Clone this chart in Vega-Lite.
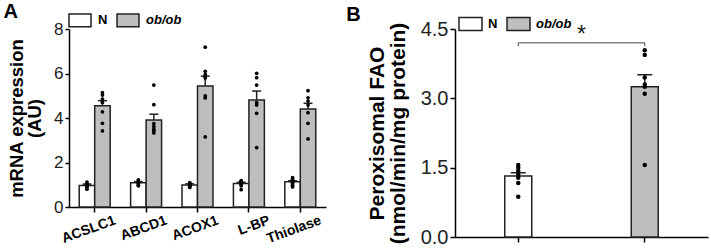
{
  "$schema": "https://vega.github.io/schema/vega-lite/v6.json",
  "padding": {"left": 3, "top": 2, "right": 4, "bottom": 0},
  "config": {
    "view": {"stroke": null},
    "font": "Liberation Sans",
    "axis": {"domainColor": "black", "domainWidth": 1.5, "tickColor": "black", "tickWidth": 1.5, "labelColor": "#222", "titleColor": "black", "grid": false, "labelFont": "Liberation Sans", "titleFont": "Liberation Sans", "titleFontWeight": "bold"},
    "legend": {"labelFont": "Liberation Sans"},
    "title": {"font": "Liberation Sans"}
  },
  "datasets": {
    "barsA": [
      {"gene": "ACSLC1", "group": "N", "mean": 0.97, "hi": 1.03},
      {"gene": "ACSLC1", "group": "ob/ob", "mean": 4.55, "hi": 4.78},
      {"gene": "ABCD1", "group": "N", "mean": 1.09, "hi": 1.14},
      {"gene": "ABCD1", "group": "ob/ob", "mean": 3.91, "hi": 4.17},
      {"gene": "ACOX1", "group": "N", "mean": 0.99, "hi": 1.04},
      {"gene": "ACOX1", "group": "ob/ob", "mean": 5.44, "hi": 5.88},
      {"gene": "L-BP", "group": "N", "mean": 1.06, "hi": 1.11},
      {"gene": "L-BP", "group": "ob/ob", "mean": 4.81, "hi": 5.21},
      {"gene": "Thiolase", "group": "N", "mean": 1.13, "hi": 1.18},
      {"gene": "Thiolase", "group": "ob/ob", "mean": 4.41, "hi": 4.66}
    ],
    "ptsA": [
      {"gene": "ACSLC1", "group": "N", "value": 1.12},
      {"gene": "ACSLC1", "group": "N", "value": 1.05},
      {"gene": "ACSLC1", "group": "N", "value": 1.0},
      {"gene": "ACSLC1", "group": "N", "value": 0.97},
      {"gene": "ACSLC1", "group": "N", "value": 0.93},
      {"gene": "ACSLC1", "group": "N", "value": 0.88},
      {"gene": "ACSLC1", "group": "N", "value": 0.8},
      {"gene": "ACSLC1", "group": "ob/ob", "value": 5.14},
      {"gene": "ACSLC1", "group": "ob/ob", "value": 5.03},
      {"gene": "ACSLC1", "group": "ob/ob", "value": 4.85},
      {"gene": "ACSLC1", "group": "ob/ob", "value": 4.7},
      {"gene": "ACSLC1", "group": "ob/ob", "value": 4.28},
      {"gene": "ACSLC1", "group": "ob/ob", "value": 3.76},
      {"gene": "ACSLC1", "group": "ob/ob", "value": 3.42},
      {"gene": "ABCD1", "group": "N", "value": 1.22},
      {"gene": "ABCD1", "group": "N", "value": 1.17},
      {"gene": "ABCD1", "group": "N", "value": 1.12},
      {"gene": "ABCD1", "group": "N", "value": 1.08},
      {"gene": "ABCD1", "group": "N", "value": 1.04},
      {"gene": "ABCD1", "group": "N", "value": 0.98},
      {"gene": "ABCD1", "group": "N", "value": 0.95},
      {"gene": "ABCD1", "group": "ob/ob", "value": 5.48},
      {"gene": "ABCD1", "group": "ob/ob", "value": 4.6},
      {"gene": "ABCD1", "group": "ob/ob", "value": 3.75},
      {"gene": "ABCD1", "group": "ob/ob", "value": 3.62},
      {"gene": "ABCD1", "group": "ob/ob", "value": 3.5},
      {"gene": "ABCD1", "group": "ob/ob", "value": 3.42},
      {"gene": "ABCD1", "group": "ob/ob", "value": 3.33},
      {"gene": "ACOX1", "group": "N", "value": 1.1},
      {"gene": "ACOX1", "group": "N", "value": 1.05},
      {"gene": "ACOX1", "group": "N", "value": 1.0},
      {"gene": "ACOX1", "group": "N", "value": 0.98},
      {"gene": "ACOX1", "group": "N", "value": 0.95},
      {"gene": "ACOX1", "group": "N", "value": 0.92},
      {"gene": "ACOX1", "group": "N", "value": 0.88},
      {"gene": "ACOX1", "group": "ob/ob", "value": 7.18},
      {"gene": "ACOX1", "group": "ob/ob", "value": 6.1},
      {"gene": "ACOX1", "group": "ob/ob", "value": 5.95},
      {"gene": "ACOX1", "group": "ob/ob", "value": 5.85},
      {"gene": "ACOX1", "group": "ob/ob", "value": 5.8},
      {"gene": "ACOX1", "group": "ob/ob", "value": 5.0},
      {"gene": "ACOX1", "group": "ob/ob", "value": 4.9},
      {"gene": "ACOX1", "group": "ob/ob", "value": 3.15},
      {"gene": "L-BP", "group": "N", "value": 1.18},
      {"gene": "L-BP", "group": "N", "value": 1.14},
      {"gene": "L-BP", "group": "N", "value": 1.1},
      {"gene": "L-BP", "group": "N", "value": 1.06},
      {"gene": "L-BP", "group": "N", "value": 1.02},
      {"gene": "L-BP", "group": "N", "value": 0.95},
      {"gene": "L-BP", "group": "N", "value": 0.78},
      {"gene": "L-BP", "group": "ob/ob", "value": 6.01},
      {"gene": "L-BP", "group": "ob/ob", "value": 5.81},
      {"gene": "L-BP", "group": "ob/ob", "value": 5.48},
      {"gene": "L-BP", "group": "ob/ob", "value": 4.69},
      {"gene": "L-BP", "group": "ob/ob", "value": 4.58},
      {"gene": "L-BP", "group": "ob/ob", "value": 4.21},
      {"gene": "L-BP", "group": "ob/ob", "value": 2.67},
      {"gene": "Thiolase", "group": "N", "value": 1.32},
      {"gene": "Thiolase", "group": "N", "value": 1.25},
      {"gene": "Thiolase", "group": "N", "value": 1.17},
      {"gene": "Thiolase", "group": "N", "value": 1.1},
      {"gene": "Thiolase", "group": "N", "value": 1.05},
      {"gene": "Thiolase", "group": "N", "value": 0.98},
      {"gene": "Thiolase", "group": "N", "value": 0.9},
      {"gene": "Thiolase", "group": "ob/ob", "value": 5.23},
      {"gene": "Thiolase", "group": "ob/ob", "value": 4.91},
      {"gene": "Thiolase", "group": "ob/ob", "value": 4.76},
      {"gene": "Thiolase", "group": "ob/ob", "value": 4.58},
      {"gene": "Thiolase", "group": "ob/ob", "value": 4.24},
      {"gene": "Thiolase", "group": "ob/ob", "value": 3.76},
      {"gene": "Thiolase", "group": "ob/ob", "value": 3.06}
    ],
    "barsB": [
      {"group": "N", "mean": 1.32, "hi": 1.39},
      {"group": "ob/ob", "mean": 3.25, "hi": 3.51}
    ],
    "ptsB": [
      {"group": "N", "value": 1.56},
      {"group": "N", "value": 1.5},
      {"group": "N", "value": 1.43},
      {"group": "N", "value": 1.35},
      {"group": "N", "value": 1.28},
      {"group": "N", "value": 1.17},
      {"group": "N", "value": 0.87},
      {"group": "ob/ob", "value": 4.04},
      {"group": "ob/ob", "value": 3.94},
      {"group": "ob/ob", "value": 3.45},
      {"group": "ob/ob", "value": 3.3},
      {"group": "ob/ob", "value": 3.25},
      {"group": "ob/ob", "value": 3.1},
      {"group": "ob/ob", "value": 1.56}
    ],
    "sig": [
      {"from": "N", "to": "ob/ob", "y": 4.2, "ytext": 4.38, "label": "*"}
    ],
    "sigEnds": [
      {"group": "N", "y": 4.2, "y2": 4.13},
      {"group": "ob/ob", "y": 4.2, "y2": 4.13}
    ]
  },
  "spacing": 20,
  "resolve": {
    "scale": {"x": "independent", "y": "independent", "fill": "independent", "xOffset": "independent"},
    "legend": {"fill": "independent"},
    "axis": {"x": "independent", "y": "independent"}
  },
  "hconcat": [
    {
      "width": 257,
      "height": 178,
      "title": {"text": "A", "anchor": "start", "frame": "bounds", "fontSize": 20, "fontWeight": "bold", "offset": -14, "dx": -4, "color": "black"},
      "layer": [
        {
          "data": {"name": "barsA"},
          "mark": {"type": "bar", "stroke": "#222", "strokeWidth": 1.5},
          "encoding": {
            "x": {"field": "gene", "type": "nominal", "sort": ["ACSLC1", "ABCD1", "ACOX1", "L-BP", "Thiolase"], "scale": {"paddingInner": 0, "paddingOuter": 0},
              "axis": {"title": null, "labelAngle": -20, "labelAlign": "right", "labelBaseline": "top", "labelOffset": 18, "labelPadding": 1, "labelFontWeight": "bold", "labelFontSize": 14, "labelColor": "black", "tickSize": 5}},
            "xOffset": {"field": "group", "type": "nominal", "sort": ["N", "ob/ob"], "scale": {"paddingInner": 0, "paddingOuter": 0.66}},
            "y": {"field": "mean", "type": "quantitative", "scale": {"domain": [0, 8]},
              "axis": {"title": ["mRNA expression", "(AU)"], "titleFontSize": 18.5, "titleLineHeight": 18, "titlePadding": 9, "values": [0, 2, 4, 6, 8], "labelFontSize": 17, "labelPadding": 2, "tickSize": 4}},
            "fill": {"field": "group", "type": "nominal", "scale": {"domain": ["N", "ob/ob"], "range": ["white", "#BEBEBE"]},
              "legend": {"title": null, "orient": "none", "legendX": -1, "legendY": -21, "direction": "horizontal", "padding": 0,
                "symbolType": "M-1,-0.57H1V0.57H-1Z", "symbolSize": 484, "symbolStrokeColor": "#222", "symbolStrokeWidth": 1.5, "symbolOpacity": 1,
                "labelFontSize": 13, "labelFontWeight": "bold", "labelColor": "black", "labelOffset": 6, "columnPadding": 6,
                "encode": {"labels": {"update": {"fontStyle": {"signal": "datum.label === 'ob/ob' ? 'italic' : 'normal'"}}}}}}
          }
        },
        {
          "data": {"name": "barsA"},
          "mark": {"type": "rule", "color": "#222", "strokeWidth": 1.5},
          "encoding": {
            "x": {"field": "gene", "type": "nominal", "sort": ["ACSLC1", "ABCD1", "ACOX1", "L-BP", "Thiolase"]},
            "xOffset": {"field": "group", "type": "nominal", "sort": ["N", "ob/ob"]},
            "y": {"field": "mean", "type": "quantitative"},
            "y2": {"field": "hi"}
          }
        },
        {
          "data": {"name": "barsA"},
          "mark": {"type": "tick", "color": "#222", "thickness": 1.5, "size": 9, "orient": "horizontal", "opacity": 1},
          "encoding": {
            "x": {"field": "gene", "type": "nominal", "sort": ["ACSLC1", "ABCD1", "ACOX1", "L-BP", "Thiolase"]},
            "xOffset": {"field": "group", "type": "nominal", "sort": ["N", "ob/ob"]},
            "y": {"field": "hi", "type": "quantitative"}
          }
        },
        {
          "data": {"name": "ptsA"},
          "mark": {"type": "circle", "size": 14, "color": "black", "opacity": 1},
          "encoding": {
            "x": {"field": "gene", "type": "nominal", "sort": ["ACSLC1", "ABCD1", "ACOX1", "L-BP", "Thiolase"]},
            "xOffset": {"field": "group", "type": "nominal", "sort": ["N", "ob/ob"]},
            "y": {"field": "value", "type": "quantitative"}
          }
        }
      ]
    },
    {
      "width": 253,
      "height": 208,
      "title": {"text": "B", "anchor": "start", "frame": "bounds", "fontSize": 20, "fontWeight": "bold", "offset": -14, "dx": -20, "color": "black"},
      "layer": [
        {
          "data": {"name": "barsB"},
          "mark": {"type": "bar", "stroke": "#222", "strokeWidth": 1.5, "size": 27},
          "encoding": {
            "x": {"field": "group", "type": "nominal", "sort": ["N", "ob/ob"], "scale": {"paddingInner": 0, "paddingOuter": 0},
              "axis": {"title": null, "labels": false, "tickSize": 5}},
            "y": {"field": "mean", "type": "quantitative", "scale": {"domain": [0, 4.5]},
              "axis": {"title": ["Peroxisomal FAO", "(nmol/min/mg protein)"], "titleFontSize": 21, "titleLineHeight": 21, "titlePadding": 12, "values": [0, 1.5, 3, 4.5], "format": ".1f", "labelFontSize": 20, "labelPadding": 2, "tickSize": 5}},
            "fill": {"field": "group", "type": "nominal", "scale": {"domain": ["N", "ob/ob"], "range": ["white", "#BEBEBE"]},
              "legend": {"title": null, "orient": "none", "legendX": 3, "legendY": -18, "direction": "horizontal", "padding": 0,
                "symbolType": "M-1,-0.57H1V0.57H-1Z", "symbolSize": 529, "symbolStrokeColor": "#222", "symbolStrokeWidth": 1.5, "symbolOpacity": 1,
                "labelFontSize": 13, "labelFontWeight": "bold", "labelColor": "black", "labelOffset": 5, "columnPadding": 6,
                "encode": {"labels": {"update": {"fontStyle": {"signal": "datum.label === 'ob/ob' ? 'italic' : 'normal'"}}}}}}
          }
        },
        {
          "data": {"name": "barsB"},
          "mark": {"type": "rule", "color": "#222", "strokeWidth": 1.5},
          "encoding": {
            "x": {"field": "group", "type": "nominal", "sort": ["N", "ob/ob"]},
            "y": {"field": "mean", "type": "quantitative"},
            "y2": {"field": "hi"}
          }
        },
        {
          "data": {"name": "barsB"},
          "mark": {"type": "tick", "color": "#222", "thickness": 1.5, "size": 15, "orient": "horizontal", "opacity": 1},
          "encoding": {
            "x": {"field": "group", "type": "nominal", "sort": ["N", "ob/ob"]},
            "y": {"field": "hi", "type": "quantitative"}
          }
        },
        {
          "data": {"name": "ptsB"},
          "mark": {"type": "circle", "size": 20, "color": "black", "opacity": 1},
          "encoding": {
            "x": {"field": "group", "type": "nominal", "sort": ["N", "ob/ob"]},
            "y": {"field": "value", "type": "quantitative"}
          }
        },
        {
          "data": {"name": "sig"},
          "mark": {"type": "rule", "color": "#444", "strokeWidth": 1},
          "encoding": {
            "x": {"field": "from", "type": "nominal", "sort": ["N", "ob/ob"]},
            "x2": {"field": "to"},
            "y": {"field": "y", "type": "quantitative"}
          }
        },
        {
          "data": {"name": "sigEnds"},
          "mark": {"type": "rule", "color": "#444", "strokeWidth": 1},
          "encoding": {
            "x": {"field": "group", "type": "nominal", "sort": ["N", "ob/ob"]},
            "y": {"field": "y", "type": "quantitative"},
            "y2": {"field": "y2"}
          }
        },
        {
          "data": {"name": "sig"},
          "mark": {"type": "text", "fontSize": 23, "baseline": "middle", "align": "center", "color": "#222"},
          "encoding": {
            "x": {"field": "from", "type": "nominal", "sort": ["N", "ob/ob"], "bandPosition": 1},
            "y": {"field": "ytext", "type": "quantitative"},
            "text": {"field": "label"}
          }
        }
      ]
    }
  ]
}
